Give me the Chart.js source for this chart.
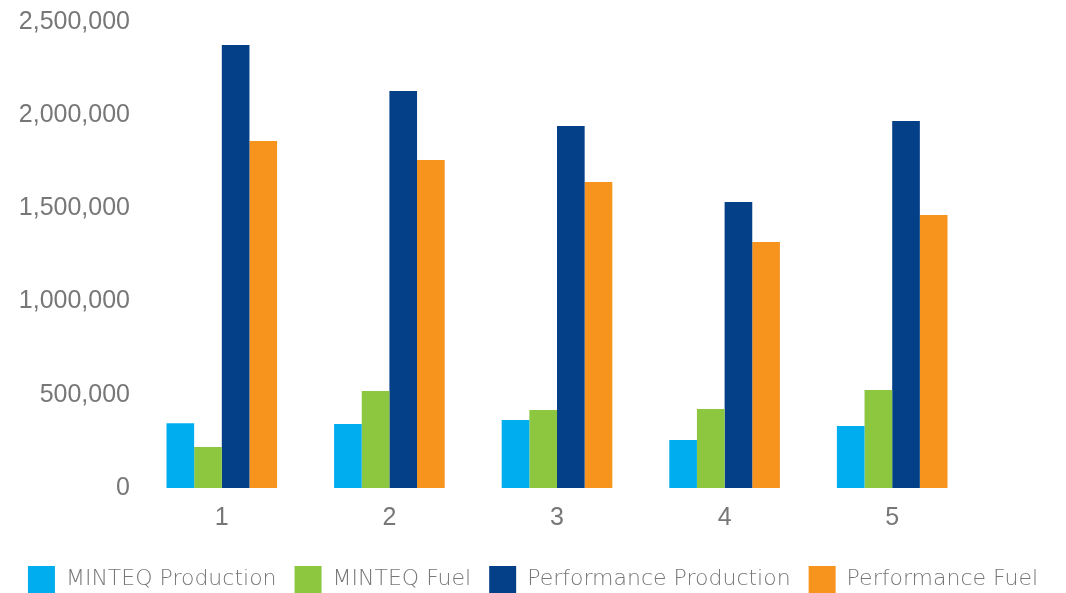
<!DOCTYPE html>
<html>
<head>
<meta charset="utf-8">
<script src="https://cdn.jsdelivr.net/npm/chart.js@4"></script>
<style>
  html, body { margin: 0; padding: 0; background: #fff; }
  #wrap { width: 1066px; height: 593px; }
</style>
</head>
<body>
<div id="wrap"><canvas id="chart" width="1066" height="593"></canvas></div>
<script>
const categories = ['1', '2', '3', '4', '5'];
const minteqProduction = [348000, 343000, 365000, 257000, 333000];
const minteqFuel = [220000, 520000, 418000, 424000, 526000];
const performanceProduction = [2377000, 2130000, 1942000, 1534000, 1969000];
const performanceFuel = [1862000, 1760000, 1642000, 1320000, 1465000];

const seriesNames = ['MINTEQ Production', 'MINTEQ Fuel', 'Performance Production', 'Performance Fuel'];
const seriesColors = ['#00aeef', '#8dc63f', '#034088', '#f7941d'];
const seriesData = [minteqProduction, minteqFuel, performanceProduction, performanceFuel];

const tickFont = '"Liberation Sans", Arial, sans-serif';
const legendFont = '"DejaVu Sans", sans-serif';
const textColor = '#777777';

new Chart(document.getElementById('chart'), {
	type: 'bar',
	data: {
		labels: categories,
		datasets: seriesNames.map((name, i) => ({
			label: name,
			data: seriesData[i],
			backgroundColor: seriesColors[i],
			borderWidth: 0,
			categoryPercentage: 0.66,
			barPercentage: 1.0
		}))
	},
	options: {
		responsive: false,
		animation: false,
		layout: { padding: { left: 0, right: 0, top: 22, bottom: 0 } },
		plugins: {
			tooltip: { enabled: false },
			legend: {
				position: 'bottom',
				maxHeight: 45,
				labels: {
					boxWidth: 27,
					boxHeight: 27,
					padding: 18,
					color: textColor,
					font: { family: legendFont, size: 22, weight: 300 }
				}
			}
		},
		scales: {
			x: {
				grid: { display: false },
				border: { display: false },
				ticks: { color: textColor, font: { family: tickFont, size: 25 }, padding: 7 },
				afterFit: s => { s.height = 60; }
			},
			y: {
				min: 0,
				max: 2500000,
				grid: { display: false },
				border: { display: false },
				ticks: {
					stepSize: 500000,
					color: textColor,
					padding: 0,
					font: { family: tickFont, size: 25 },
					callback: v => v.toLocaleString('en-US')
				},
				afterFit: s => { s.width = 138; }
			},
			// empty axis on the right keeps the plot narrower than the legend
			spacer: {
				type: 'linear',
				position: 'right',
				grid: { display: false },
				border: { display: false },
				ticks: { display: false },
				afterFit: s => { s.width = 90; }
			}
		}
	}
});
</script>
</body>
</html>
